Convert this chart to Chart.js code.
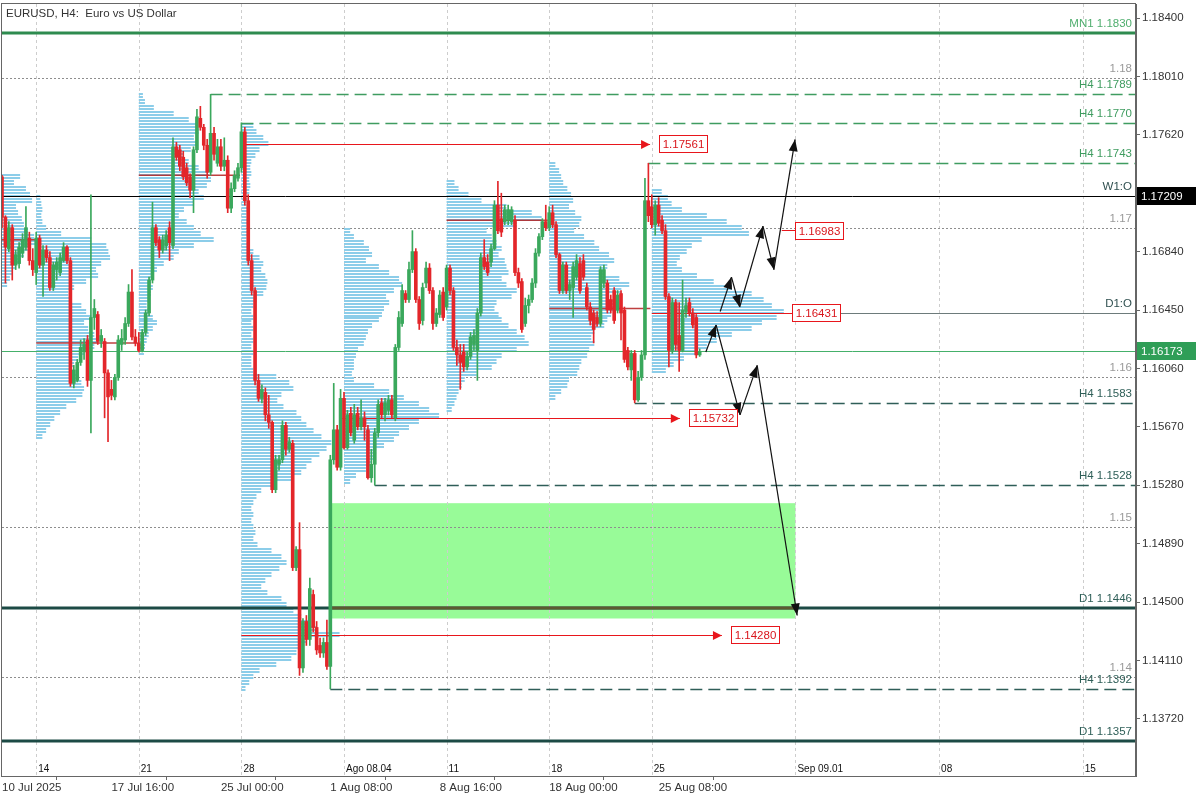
<!DOCTYPE html>
<html lang="en">
<head>
<meta charset="UTF-8">
<title>EURUSD, H4</title>
<script src="https://cdn.jsdelivr.net/npm/chart.js"></script>
<style>
  html, body { margin: 0; padding: 0; background: #fff; }
  canvas { display: block; }
</style>
</head>
<body>
<canvas id="chart" width="1200" height="800"></canvas>
<script>
// H4 candles, bar 0 = 10 Jul 2025 08:00
const open = [
  1.1734, 1.1707, 1.1686, 1.1700, 1.1675, 1.1676, 1.1683, 1.1687, 1.1693, 1.1678,
  1.1670, 1.1693, 1.1675, 1.1685, 1.1680, 1.1660, 1.1672, 1.1670, 1.1678, 1.1687,
  1.1678, 1.1596, 1.1598, 1.1610, 1.1617, 1.1625, 1.1598, 1.1640, 1.1642, 1.1624,
  1.1624, 1.1603, 1.1592, 1.1587, 1.1600, 1.1622, 1.1625, 1.1636, 1.1657, 1.1627,
  1.1623, 1.1618, 1.1630, 1.1643, 1.1665, 1.1700, 1.1692, 1.1685, 1.1688, 1.1700,
  1.1688, 1.1754, 1.1752, 1.1747, 1.1740, 1.1734, 1.1725, 1.1752, 1.1773, 1.1767,
  1.1755, 1.1737, 1.1763, 1.1743, 1.1754, 1.1741, 1.1745, 1.1713, 1.1726, 1.1733,
  1.1740, 1.1764, 1.1718, 1.1678, 1.1658, 1.1598, 1.1586, 1.1590, 1.1575, 1.1570,
  1.1525, 1.1542, 1.1545, 1.1568, 1.1552, 1.1556, 1.1473, 1.1485, 1.1406, 1.1437,
  1.1425, 1.1455, 1.1433, 1.1421, 1.1416, 1.1423, 1.1407, 1.1545, 1.1565, 1.1540,
  1.1586, 1.1553, 1.1576, 1.1558, 1.1576, 1.1567, 1.1573, 1.1565, 1.1533, 1.1542,
  1.1563, 1.1583, 1.1575, 1.1578, 1.1585, 1.1573, 1.1620, 1.1636, 1.1656, 1.1652,
  1.1672, 1.1684, 1.1652, 1.1638, 1.1663, 1.1673, 1.1658, 1.1636, 1.1642, 1.1657,
  1.1647, 1.1673, 1.1658, 1.1620, 1.1615, 1.1617, 1.1607, 1.1614, 1.1622, 1.1618,
  1.1643, 1.1680, 1.1677, 1.1677, 1.1686, 1.1715, 1.1706, 1.1704, 1.1705, 1.1704,
  1.1705, 1.1670, 1.1664, 1.1636, 1.1648, 1.1652, 1.1663, 1.1683, 1.1694, 1.1704,
  1.1700, 1.1710, 1.1702, 1.1682, 1.1658, 1.1675, 1.1658, 1.1660, 1.1667, 1.1676,
  1.1678, 1.1660, 1.1647, 1.1643, 1.1640, 1.1636, 1.1663, 1.1663, 1.1652, 1.1658,
  1.1645, 1.1656, 1.1645, 1.1618, 1.1605, 1.1616, 1.1585, 1.1600, 1.1615, 1.1718,
  1.1714, 1.1702, 1.1715, 1.1705, 1.1698, 1.1654, 1.1618, 1.1650, 1.1628, 1.1618,
  1.1644, 1.1650, 1.1643, 1.1640, 1.1615
];
const high = [
  1.1735, 1.1708, 1.1704, 1.1702, 1.1685, 1.1690, 1.1696, 1.1714, 1.1697, 1.1686,
  1.1697, 1.1695, 1.1688, 1.1688, 1.1684, 1.1677, 1.1680, 1.1683, 1.1690, 1.1688,
  1.1680, 1.1608, 1.1612, 1.1625, 1.1626, 1.1628, 1.1722, 1.1652, 1.1644, 1.1632,
  1.1626, 1.1605, 1.1598, 1.1602, 1.1628, 1.1632, 1.1640, 1.1662, 1.1672, 1.1632,
  1.1630, 1.1632, 1.1645, 1.1667, 1.1717, 1.1702, 1.1694, 1.1695, 1.1698, 1.1704,
  1.1760, 1.1757, 1.1755, 1.1751, 1.1743, 1.1736, 1.1754, 1.1779, 1.1781, 1.1769,
  1.1759, 1.1789, 1.1767, 1.1759, 1.1759, 1.1760, 1.1748, 1.1730, 1.1738, 1.1743,
  1.1770, 1.1767, 1.1722, 1.1682, 1.1660, 1.1602, 1.1595, 1.1593, 1.1588, 1.1571,
  1.1548, 1.1548, 1.1571, 1.1570, 1.1560, 1.1558, 1.1487, 1.1503, 1.1439, 1.1441,
  1.1466, 1.1458, 1.1437, 1.1426, 1.1426, 1.1438, 1.1548, 1.1596, 1.1568, 1.1592,
  1.1590, 1.1578, 1.1580, 1.1582, 1.1580, 1.1585, 1.1577, 1.1568, 1.1552, 1.1566,
  1.1585, 1.1586, 1.1586, 1.1588, 1.1588, 1.1622, 1.1644, 1.1662, 1.1658, 1.1677,
  1.1698, 1.1686, 1.1654, 1.1663, 1.1677, 1.1676, 1.1660, 1.1646, 1.1658, 1.1660,
  1.1675, 1.1675, 1.1660, 1.1625, 1.1622, 1.1622, 1.1617, 1.1630, 1.1632, 1.1646,
  1.1683, 1.1692, 1.1682, 1.1689, 1.1718, 1.1731, 1.1723, 1.1715, 1.1715, 1.1714,
  1.1708, 1.1673, 1.1666, 1.1653, 1.1655, 1.1666, 1.1686, 1.1696, 1.1706, 1.1715,
  1.1714, 1.1715, 1.1704, 1.1683, 1.1677, 1.1677, 1.1665, 1.1677, 1.1682, 1.1680,
  1.1682, 1.1663, 1.1650, 1.1645, 1.1644, 1.1674, 1.1675, 1.1665, 1.1655, 1.1660,
  1.1658, 1.1658, 1.1647, 1.1620, 1.1618, 1.1618, 1.1604, 1.1618, 1.1733, 1.1743,
  1.1722, 1.1718, 1.1720, 1.1708, 1.1702, 1.1656, 1.1653, 1.1652, 1.1650, 1.1665,
  1.1653, 1.1653, 1.1646, 1.1642, 1.1619
];
const low = [
  1.1700, 1.1663, 1.1684, 1.1665, 1.1672, 1.1673, 1.1680, 1.1685, 1.1675, 1.1668,
  1.1662, 1.1673, 1.1654, 1.1677, 1.1658, 1.1658, 1.1665, 1.1668, 1.1677, 1.1676,
  1.1594, 1.1593, 1.1597, 1.1608, 1.1612, 1.1594, 1.1563, 1.1632, 1.1622, 1.1620,
  1.1573, 1.1557, 1.1585, 1.1585, 1.1598, 1.1618, 1.1622, 1.1634, 1.1625, 1.1621,
  1.1617, 1.1617, 1.1628, 1.1641, 1.1663, 1.1688, 1.1680, 1.1683, 1.1685, 1.1678,
  1.1686, 1.1745, 1.1738, 1.1732, 1.1728, 1.1720, 1.1710, 1.1750, 1.1765, 1.1752,
  1.1733, 1.1735, 1.1745, 1.1741, 1.1738, 1.1738, 1.1710, 1.1710, 1.1724, 1.1731,
  1.1737, 1.1715, 1.1675, 1.1655, 1.1595, 1.1584, 1.1583, 1.1571, 1.1566, 1.1523,
  1.1523, 1.1538, 1.1543, 1.1548, 1.1550, 1.1471, 1.1471, 1.1401, 1.1403, 1.1421,
  1.1421, 1.1430, 1.1415, 1.1413, 1.1413, 1.1405, 1.1392, 1.1542, 1.1538, 1.1538,
  1.1552, 1.1552, 1.1561, 1.1556, 1.1565, 1.1565, 1.1558, 1.1532, 1.1530, 1.1528,
  1.1560, 1.1573, 1.1571, 1.1575, 1.1573, 1.1571, 1.1618, 1.1634, 1.1650, 1.1650,
  1.1670, 1.1650, 1.1632, 1.1635, 1.1660, 1.1656, 1.1632, 1.1634, 1.1640, 1.1638,
  1.1645, 1.1655, 1.1618, 1.1608, 1.1592, 1.1604, 1.1605, 1.1612, 1.1618, 1.1598,
  1.1641, 1.1672, 1.1668, 1.1674, 1.1685, 1.1696, 1.1694, 1.1702, 1.1702, 1.1702,
  1.1668, 1.1660, 1.1630, 1.1634, 1.1643, 1.1650, 1.1660, 1.1681, 1.1692, 1.1698,
  1.1698, 1.1700, 1.1680, 1.1656, 1.1656, 1.1656, 1.1652, 1.1640, 1.1665, 1.1656,
  1.1665, 1.1645, 1.1635, 1.1623, 1.1634, 1.1634, 1.1660, 1.1643, 1.1643, 1.1636,
  1.1643, 1.1625, 1.1610, 1.1605, 1.1598, 1.1583, 1.1584, 1.1598, 1.1612, 1.1704,
  1.1700, 1.1695, 1.1701, 1.1696, 1.1652, 1.1607, 1.1616, 1.1618, 1.1604, 1.1617,
  1.1640, 1.1641, 1.1633, 1.1613, 1.1614
];
const close = [
  1.1707, 1.1687, 1.1700, 1.1675, 1.1682, 1.1687, 1.1692, 1.1700, 1.1678, 1.1672,
  1.1693, 1.1675, 1.1685, 1.1680, 1.1660, 1.1675, 1.1677, 1.1680, 1.1687, 1.1678,
  1.1596, 1.1605, 1.1610, 1.1620, 1.1622, 1.1598, 1.1640, 1.1646, 1.1624, 1.1628,
  1.1603, 1.1587, 1.1588, 1.1600, 1.1625, 1.1626, 1.1636, 1.1657, 1.1627, 1.1623,
  1.1618, 1.1630, 1.1643, 1.1665, 1.1700, 1.1690, 1.1685, 1.1692, 1.1695, 1.1690,
  1.1754, 1.1747, 1.1741, 1.1734, 1.1730, 1.1725, 1.1752, 1.1774, 1.1767, 1.1755,
  1.1737, 1.1763, 1.1749, 1.1754, 1.1741, 1.1745, 1.1713, 1.1726, 1.1735, 1.1740,
  1.1764, 1.1718, 1.1678, 1.1658, 1.1598, 1.1586, 1.1592, 1.1575, 1.1570, 1.1525,
  1.1545, 1.1545, 1.1568, 1.1552, 1.1557, 1.1473, 1.1485, 1.1406, 1.1437, 1.1425,
  1.1459, 1.1433, 1.1418, 1.1416, 1.1423, 1.1407, 1.1545, 1.1565, 1.1540, 1.1586,
  1.1553, 1.1575, 1.1563, 1.1575, 1.1567, 1.1573, 1.1567, 1.1533, 1.1542, 1.1563,
  1.1582, 1.1575, 1.1583, 1.1585, 1.1575, 1.1620, 1.1640, 1.1658, 1.1652, 1.1672,
  1.1684, 1.1652, 1.1636, 1.1660, 1.1673, 1.1658, 1.1636, 1.1643, 1.1655, 1.1640,
  1.1673, 1.1658, 1.1620, 1.1615, 1.1610, 1.1607, 1.1614, 1.1627, 1.1628, 1.1643,
  1.1680, 1.1674, 1.1670, 1.1686, 1.1715, 1.1698, 1.1697, 1.1712, 1.1712, 1.1712,
  1.1670, 1.1663, 1.1632, 1.1648, 1.1652, 1.1663, 1.1683, 1.1694, 1.1704, 1.1700,
  1.1710, 1.1702, 1.1682, 1.1658, 1.1675, 1.1658, 1.1662, 1.1674, 1.1678, 1.1658,
  1.1667, 1.1647, 1.1638, 1.1632, 1.1636, 1.1672, 1.1672, 1.1645, 1.1645, 1.1638,
  1.1655, 1.1643, 1.1612, 1.1607, 1.1616, 1.1585, 1.1600, 1.1615, 1.1718, 1.1708,
  1.1702, 1.1715, 1.1703, 1.1698, 1.1654, 1.1618, 1.1650, 1.1622, 1.1618, 1.1645,
  1.1648, 1.1643, 1.1635, 1.1615, 1.16173
];

// axis labels
const dateTickBars = [0, 32, 64, 96, 128, 160, 192];
const dateLabels = ['10 Jul 2025', '17 Jul 16:00', '25 Jul 00:00', '1 Aug 08:00', '8 Aug 16:00', '18 Aug 00:00', '25 Aug 08:00'];
const dayBars = [10, 40, 70, 100, 130, 160, 190, 232, 274, 316];
const dayLabels = ['14', '21', '28', 'Ago 08.04', '11', '18', '25', 'Sep 09.01', '08', '15'];
const priceTicks = [1.13720, 1.14110, 1.14500, 1.14890, 1.15280, 1.15670, 1.16060, 1.16450, 1.16840, 1.17230, 1.17620, 1.18010, 1.18400];
const roundPrices = [1.18, 1.17, 1.16, 1.15, 1.14];

// levels
const levelNames = ['MN1', 'H4', 'H4', 'H4', 'H4', 'H4', 'H4', 'D1', 'D1'];
const levelPrices = [1.1830, 1.1789, 1.1770, 1.1743, 1.1583, 1.1528, 1.1392, 1.1446, 1.1357];
const levelFrom = [0, 61, 70, 189, 185, 109, 96, 0, 0];
const openNames = ['W1:O', 'D1:O'];
const openPrices = [1.17209, 1.16431];
const openFrom = [0, 202];
const lastPrice = 1.16173;

// volume profiles (bins of 0.0004, width in bars)
const binSize = 0.0004;
const profStart = [0, 10, 40, 70, 100, 130, 160, 190];
const profTop = [1.1736, 1.1722, 1.1790, 1.1770, 1.1700, 1.1732, 1.1744, 1.1726];
const vp0 = [5.3, 3.5, 7, 8.2, 8.8, 4.1, 4.7, 5.8, 6.4, 7.6, 9.4, 9.9, 8.2, 6.4, 4.7, 4.1, 2.9, 2.3, 1.5];
const vp1 = [1.2, 1.5, 1.8, 1.5, 1.8, 2.9, 7.3, 16.1, 20.5, 21.1, 21.6, 19, 17.5, 18.1, 14.6, 11.1, 9.4, 10.2, 13.2, 14.6,
  16.1, 14, 15.2, 17, 18.1, 17, 14, 12.3, 11.1, 10.2, 11.7, 13.2, 14, 13.5, 11.7, 8.8, 7, 5.3, 4.1, 2.9, 1.8];
const vp2 = [1.2, 1.8, 4.4, 10.2, 14.6, 17, 17.5, 16.1, 17, 15.2, 13.2, 14.6, 17.5, 20.5, 21.1, 19.9, 17.5, 19, 16.1, 13.2,
  11.7, 14, 16.1, 18.1, 21.9, 16.1, 11.7, 10.2, 7.3, 5.3, 4.4, 3.5, 4.1, 3.5, 2.9, 2.3, 2.9, 4.1, 5.3, 4.1, 2.9, 2.3, 1.8, 1.5];
const vp3 = [3.5, 4.4, 6.4, 7.9, 5.3, 4.1, 2.9, 2.6, 2.9, 2.3, 2.6, 2.3, 1.8, 1.5, 1.8, 1.5, 1.8, 1.5, 1.8, 1.5,
  2.3, 3.5, 5.3, 6.4, 5.8, 7, 7.6, 7.3, 6.4, 4.4, 3.5, 2.9, 3.5, 2.9, 3.5, 2.9, 3.5, 2.9, 3.5, 2.9,
  2.9, 3.5, 10.2, 14, 15.2, 11.7, 10.5, 12.3, 16.1, 17.5, 19, 21.1, 23.4, 26.3, 24.9, 22.8, 20.5, 19, 17.5, 14.6,
  8.8, 5.8, 4.4, 3.5, 2.9, 3.5, 2.9, 3.5, 4.1, 3.5, 4.7, 8.8, 11.7, 13.2, 11.1, 8.8, 7, 5.8, 7.6, 11.7,
  13.2, 15.2, 17.5, 19.9, 21.9, 28.7, 19, 17.5, 16.1, 14.6, 10.2, 5.3, 3.5, 2.3, 1.2];
const vp4 = [1.8, 2.9, 5.8, 7.3, 8.2, 6.4, 10.2, 13.2, 16.1, 17, 14.6, 12.3, 13.2, 11.7, 11.1, 10.2, 8.2, 7, 6.4, 5.8,
  4.1, 3.5, 2.9, 2.9, 2.3, 2.9, 8.8, 13.2, 17.5, 21.9, 24.9, 27.8, 21.9, 19, 16.1, 14.6, 11.7, 9.4, 8.8, 8.2, 6.4, 3.5, 1.8];
const vp5 = [2.3, 3.5, 6.4, 10.2, 17.5, 24.9, 27.8, 20.5, 11.7, 13.2, 14.6, 16.1, 15.2, 17, 17.5, 18.1, 16.1, 17.5, 20.5, 19,
  14.6, 14, 15.2, 16.1, 18.1, 20.5, 22.8, 24, 20.5, 16.1, 14.6, 13.2, 8.8, 5.3, 4.4, 3.5, 2.9, 2.3, 1.5];
const vp6 = [1.8, 2.9, 3.5, 4.1, 5.3, 6.4, 7, 5.8, 7.6, 9.4, 8.8, 7.3, 10.2, 13.2, 14.6, 17.5, 19, 17, 16.1, 20.5,
  23.4, 21.1, 17.5, 19, 20.5, 18.1, 17, 16.1, 13.2, 12.3, 13.2, 11.7, 11.1, 9.4, 8.8, 8.2, 5.8, 5.3, 3.5, 1.8];
const vp7 = [2.9, 4.7, 5.8, 8.8, 16.1, 21.9, 26.3, 28.4, 14.6, 11.7, 10.2, 8.2, 7.3, 8.8, 13.2, 18.1, 23.4, 29.2, 32.7, 35.1,
  38.6, 36.5, 32.2, 29.2, 23.4, 19, 16.1, 13.2, 9.4, 6.4, 4.1];
const profiles = [vp0, vp1, vp2, vp3, vp4, vp5, vp6, vp7];

// weekly POC lines
const pocPrices = [1.1692, 1.1623, 1.1735, 1.1705, 1.1646];
const pocFrom = [0, 10, 40, 130, 160];
const pocTo = [10, 39.6, 69.6, 159.6, 189.6];

// untested POC lines with price boxes
const nakedPrices = [1.17561, 1.15732, 1.14280, 1.16431, 1.16983];
const nakedFrom = [70.5, 99.5, 70, 190, 228];
const nakedTo = [189.5, 198.2, 210.5, 231, 231.9];
const nakedArrow = [true, true, true, false, false];

// demand zone
const zoneBars = [96.3, 232];
const zonePrices = [1.1439, 1.1516];

// projected paths
const upBars = [210, 213.3, 215.7, 222.5, 225.7, 231.9];
const upPrices = [1.1644, 1.1667, 1.1647, 1.1701, 1.1672, 1.1759];
const downBars = [205.8, 208.8, 215.8, 220.8, 232.5];
const downPrices = [1.1617, 1.1635, 1.1575, 1.1608, 1.1441];

const FONT = '"Liberation Sans", Arial, sans-serif';
const BULL = '#3aa85c';
const BEAR = '#e3262a';

const colors = open.map((o, i) => close[i] >= o ? BULL : BEAR);
const wicks = open.map((o, i) => ({ x: i, y: [low[i], high[i]] }));
const bodies = open.map((o, i) => ({ x: i, y: [o, close[i]] }));

function seg(ctx, x1, y1, x2, y2) {
  ctx.beginPath();
  ctx.moveTo(x1, y1);
  ctx.lineTo(x2, y2);
  ctx.stroke();
}

function arrowHead(ctx, x1, y1, x2, y2, len, half) {
  const a = Math.atan2(y2 - y1, x2 - x1);
  const bx = x2 - len * Math.cos(a), by = y2 - len * Math.sin(a);
  ctx.beginPath();
  ctx.moveTo(x2, y2);
  ctx.lineTo(bx + half * Math.sin(a), by - half * Math.cos(a));
  ctx.lineTo(bx - half * Math.sin(a), by + half * Math.cos(a));
  ctx.closePath();
  ctx.fill();
}

function levelStyle(name, price) {
  if (name === 'MN1') return { color: '#2e8b4f', width: 3, dash: [], text: '#4fae6e' };
  if (name === 'D1') return { color: '#1c4a45', width: 3, dash: [], text: '#2f5f58' };
  if (price > lastPrice) return { color: '#3f9c60', width: 1.3, dash: [12, 6], text: '#3f9c60' };
  return { color: '#2f5e58', width: 1.3, dash: [12, 6], text: '#2f5f58' };
}

const overlay = {
  id: 'overlay',
  beforeDatasetsDraw(chart) {
    const { ctx, chartArea: a, scales: { x, y } } = chart;
    const X = v => x.getPixelForValue(v);
    const Y = v => y.getPixelForValue(v);
    const hy = v => Math.round(Y(v)) + 0.5;
    ctx.save();
    ctx.beginPath();
    ctx.rect(a.left, a.top, a.right - a.left, a.bottom - a.top);
    ctx.clip();

    // zone
    ctx.fillStyle = '#98fb98';
    ctx.fillRect(X(zoneBars[0]), Y(zonePrices[1]), X(zoneBars[1]) - X(zoneBars[0]), Y(zonePrices[0]) - Y(zonePrices[1]));

    // grid
    ctx.lineWidth = 1;
    ctx.strokeStyle = '#cdcdcd';
    ctx.setLineDash([3, 3]);
    dayBars.forEach(b => { const px = Math.round(X(b)) + 0.5; seg(ctx, px, a.top, px, a.bottom); });
    ctx.strokeStyle = '#8e8e8e';
    ctx.setLineDash([2, 2]);
    roundPrices.forEach(p => seg(ctx, a.left, hy(p), a.right, hy(p)));
    ctx.setLineDash([]);

    // volume profiles
    ctx.fillStyle = '#8ccde9';
    profiles.forEach((vols, p) => {
      const x0 = X(profStart[p]);
      vols.forEach((v, k) => {
        const top = profTop[p] - k * binSize;
        const y0 = Y(top), y1 = Y(top - binSize);
        const w = X(profStart[p] + v) - x0;
        const r = Math.round(y0);
        ctx.fillRect(x0, r, w, 2);
        ctx.fillRect(x0, r + Math.round((y1 - y0) / 2), w, 2);
      });
    });

    // weekly POC
    ctx.strokeStyle = 'rgba(180,30,30,0.85)';
    ctx.lineWidth = 1.5;
    pocPrices.forEach((p, i) => seg(ctx, X(pocFrom[i]), Y(p), X(pocTo[i]), Y(p)));

    // levels
    levelPrices.forEach((p, i) => {
      const s = levelStyle(levelNames[i], p);
      ctx.strokeStyle = s.color;
      ctx.lineWidth = s.width;
      ctx.setLineDash(s.dash);
      const py = s.width === 3 ? Math.round(Y(p)) : hy(p);
      seg(ctx, X(levelFrom[i]), py, a.right, py);
    });
    ctx.setLineDash([]);
    // D1 level seen through the zone
    const d1 = levelPrices[7];
    if (d1 > zonePrices[0] && d1 < zonePrices[1]) {
      ctx.strokeStyle = '#5c5a30';
      ctx.lineWidth = 3;
      seg(ctx, X(zoneBars[0]), Math.round(Y(d1)), X(zoneBars[1]), Math.round(Y(d1)));
    }

    // opens and last price
    ctx.lineWidth = 1;
    ctx.strokeStyle = '#000';
    seg(ctx, X(openFrom[0]), hy(openPrices[0]), a.right, hy(openPrices[0]));
    ctx.strokeStyle = '#6d7b7b';
    seg(ctx, X(openFrom[1]), hy(openPrices[1]), a.right, hy(openPrices[1]));
    ctx.strokeStyle = '#45b06a';
    seg(ctx, a.left, hy(lastPrice), a.right, hy(lastPrice));

    // untested POC lines
    ctx.strokeStyle = '#e8161c';
    ctx.fillStyle = '#e8161c';
    nakedPrices.forEach((p, i) => {
      const py = hy(p);
      const x1 = X(nakedFrom[i]), x2 = X(nakedTo[i]);
      seg(ctx, x1, py, x2, py);
      if (nakedArrow[i]) arrowHead(ctx, x1, py, x2, py, 9, 4.5);
    });
    ctx.restore();
  },
  afterDatasetsDraw(chart) {
    const { ctx, chartArea: a, scales: { x, y } } = chart;
    const X = v => x.getPixelForValue(v);
    const Y = v => y.getPixelForValue(v);
    ctx.save();

    // projected paths
    ctx.strokeStyle = '#111';
    ctx.fillStyle = '#111';
    ctx.lineWidth = 1.2;
    [[upBars, upPrices], [downBars, downPrices]].forEach(([bs, ps]) => {
      for (let i = 0; i < bs.length - 1; i++) {
        const x1 = X(bs[i]), y1 = Y(ps[i]), x2 = X(bs[i + 1]), y2 = Y(ps[i + 1]);
        seg(ctx, x1, y1, x2, y2);
        arrowHead(ctx, x1, y1, x2, y2, 12, 4.5);
      }
    });

    // price boxes
    ctx.font = '11.5px ' + FONT;
    ctx.textAlign = 'center';
    ctx.textBaseline = 'middle';
    ctx.lineWidth = 1;
    nakedPrices.forEach((p, i) => {
      const bx = Math.round(X(nakedTo[i]) + (nakedArrow[i] ? 9 : 0)) + 0.5;
      const by = Math.round(Y(p) - 8.5) + 0.5;
      ctx.fillStyle = '#fff';
      ctx.fillRect(bx, by, 48, 17);
      ctx.strokeStyle = '#e8161c';
      ctx.strokeRect(bx, by, 48, 17);
      ctx.fillStyle = '#d9161c';
      ctx.fillText(p.toFixed(5), bx + 24, by + 9);
    });

    // right-hand labels
    ctx.font = '11.5px ' + FONT;
    ctx.textAlign = 'right';
    ctx.textBaseline = 'alphabetic';
    const rx = a.right - 4;
    roundPrices.forEach(p => { ctx.fillStyle = '#9a9a9a'; ctx.fillText(p.toFixed(2), rx, Y(p) - 6); });
    levelPrices.forEach((p, i) => {
      ctx.fillStyle = levelStyle(levelNames[i], p).text;
      ctx.fillText(levelNames[i] + ' ' + p.toFixed(4), rx, Y(p) - 6);
    });
    openPrices.forEach((p, i) => { ctx.fillStyle = '#2f4f4f'; ctx.fillText(openNames[i], rx, Y(p) - 6); });

    // day labels inside the plot
    ctx.font = '10px ' + FONT;
    ctx.textAlign = 'left';
    ctx.fillStyle = '#111';
    dayBars.forEach((b, i) => ctx.fillText(dayLabels[i], X(b) + 2, a.bottom - 4));

    // title
    ctx.font = '11.5px ' + FONT;
    ctx.fillStyle = '#333';
    ctx.fillText('EURUSD, H4:  Euro vs US Dollar', a.left + 4, a.top + 13);

    // frame
    ctx.strokeStyle = '#666';
    ctx.lineWidth = 1;
    ctx.strokeRect(a.left - 0.5, a.top - 0.5, a.right - a.left, a.bottom - a.top + 1);
    ctx.restore();
  },
  afterDraw(chart) {
    const { ctx, chartArea: a, scales: { y } } = chart;
    ctx.save();
    ctx.font = '11.5px ' + FONT;
    ctx.textAlign = 'left';
    ctx.textBaseline = 'middle';
    [[openPrices[0], '#000'], [lastPrice, '#2f9e57']].forEach(([p, bg]) => {
      const py = Math.round(y.getPixelForValue(p));
      ctx.fillStyle = bg;
      ctx.fillRect(a.right + 1, py - 9, 59, 18);
      ctx.fillStyle = '#fff';
      ctx.fillText(p.toFixed(5), a.right + 5, py + 1);
    });
    ctx.restore();
  }
};

Chart.defaults.font.family = FONT;

new Chart(document.getElementById('chart'), {
  type: 'bar',
  data: {
    datasets: [
      { label: 'wick', data: wicks, backgroundColor: colors, barThickness: 1, grouped: false, order: 2 },
      { label: 'body', data: bodies, backgroundColor: colors, barThickness: 3, grouped: false, minBarLength: 1, order: 1 }
    ]
  },
  options: {
    responsive: false,
    animation: false,
    layout: { padding: { left: 2, top: 4, right: 0, bottom: 0 } },
    plugins: { legend: { display: false }, tooltip: { enabled: false } },
    scales: {
      x: {
        type: 'linear',
        min: 0,
        max: 331.58,
        offset: false,
        grid: { drawOnChartArea: false, drawTicks: true, tickLength: 4, color: '#666' },
        border: { color: '#666' },
        afterBuildTicks: s => { s.ticks = dateTickBars.map(v => ({ value: v })); },
        afterFit: s => { s.height = 24; s.paddingLeft = 0; s.paddingRight = 0; },
        ticks: {
          autoSkip: false,
          maxRotation: 0,
          align: 'start',
          padding: 1,
          color: '#333',
          font: { size: 11.5 },
          callback: (v, i) => dateLabels[i]
        }
      },
      y: {
        type: 'linear',
        position: 'right',
        min: 1.133382,
        max: 1.184935,
        beginAtZero: false,
        grid: { drawOnChartArea: false, drawTicks: true, tickLength: 4, color: '#666' },
        border: { color: '#666' },
        afterBuildTicks: s => { s.ticks = priceTicks.map(v => ({ value: v })); },
        afterFit: s => { s.width = 64; s.paddingTop = 0; s.paddingBottom = 0; },
        ticks: {
          autoSkip: false,
          padding: 2,
          color: '#333',
          font: { size: 11.5 },
          callback: v => v.toFixed(5)
        }
      }
    }
  },
  plugins: [overlay]
});
</script>
</body>
</html>
